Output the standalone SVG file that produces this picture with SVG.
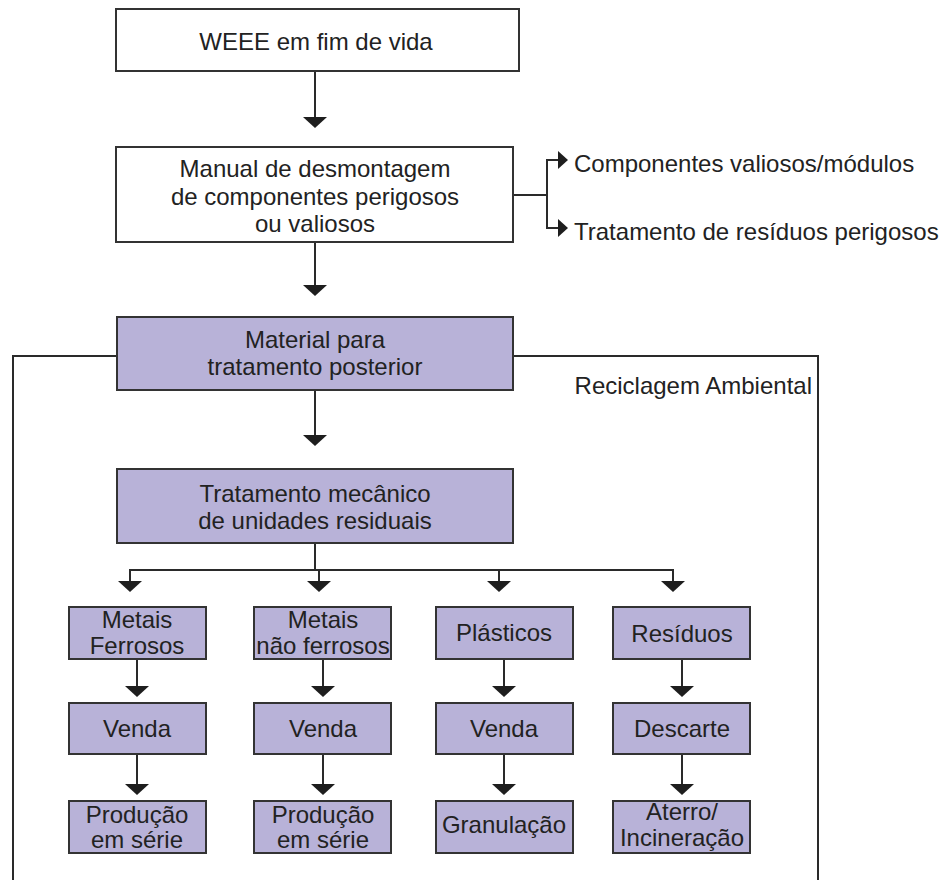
<svg xmlns="http://www.w3.org/2000/svg" width="951" height="880" viewBox="0 0 951 880">
  <style>
    .box { fill: #ffffff; stroke: #333333; stroke-width: 2; }
    .fill { fill: #b8b2d8; stroke: #333333; stroke-width: 2; }
    .line { fill: none; stroke: #2a2a2a; stroke-width: 2; }
    .head { fill: #1e1e1e; }
    text { font-family: "Liberation Sans", Arial, sans-serif; font-size: 24px; fill: #222222; }
    .c { text-anchor: middle; }
  </style>

  <!-- frame around the recycling stage -->
  <g id="frame">
    <polyline class="line" points="117,356 13,356 13,880"/>
    <polyline class="line" points="513,356 818,356 818,880"/>
    <text x="812" y="394" text-anchor="end">Reciclagem Ambiental</text>
  </g>

  <!-- connectors -->
  <g id="connectors">
    <line class="line" x1="315" y1="71" x2="315" y2="118"/>
    <polygon class="head" points="303,117 327,117 315,128"/>

    <line class="line" x1="315" y1="242" x2="315" y2="286"/>
    <polygon class="head" points="303,285 327,285 315,296"/>

    <polyline class="line" points="513,195 547,195"/>
    <polyline class="line" points="559,160 547,160 547,228 559,228"/>
    <polygon class="head" points="558,151 558,169 568,160"/>
    <polygon class="head" points="558,219 558,237 568,228"/>

    <line class="line" x1="315" y1="390" x2="315" y2="436"/>
    <polygon class="head" points="303,435 327,435 315,446"/>

    <polyline class="line" points="315,543 315,570"/>
    <polyline class="line" points="130,582 130,570 673,570 673,582"/>
    <line class="line" x1="319" y1="570" x2="319" y2="582"/>
    <line class="line" x1="499" y1="570" x2="499" y2="582"/>
    <polygon class="head" points="118,581 142,581 130,592"/>
    <polygon class="head" points="307,581 331,581 319,592"/>
    <polygon class="head" points="487,581 511,581 499,592"/>
    <polygon class="head" points="661,581 685,581 673,592"/>

    <line class="line" x1="137" y1="659" x2="137" y2="687"/>
    <line class="line" x1="323" y1="659" x2="323" y2="687"/>
    <line class="line" x1="504" y1="659" x2="504" y2="687"/>
    <line class="line" x1="682" y1="659" x2="682" y2="687"/>
    <polygon class="head" points="125,686 149,686 137,697"/>
    <polygon class="head" points="311,686 335,686 323,697"/>
    <polygon class="head" points="492,686 516,686 504,697"/>
    <polygon class="head" points="670,686 694,686 682,697"/>

    <line class="line" x1="137" y1="754" x2="137" y2="785"/>
    <line class="line" x1="323" y1="754" x2="323" y2="785"/>
    <line class="line" x1="504" y1="754" x2="504" y2="785"/>
    <line class="line" x1="682" y1="754" x2="682" y2="785"/>
    <polygon class="head" points="125,784 149,784 137,795"/>
    <polygon class="head" points="311,784 335,784 323,795"/>
    <polygon class="head" points="492,784 516,784 504,795"/>
    <polygon class="head" points="670,784 694,784 682,795"/>
  </g>

  <g id="weee">
    <rect class="box" x="116" y="9" width="403" height="62"/>
    <text class="c" x="316" y="50">WEEE em fim de vida</text>
  </g>

  <g id="manual">
    <rect class="box" x="116" y="147" width="397" height="95"/>
    <text class="c" x="315" y="177">Manual de desmontagem</text>
    <text class="c" x="315" y="205">de componentes perigosos</text>
    <text class="c" x="315" y="232">ou valiosos</text>
  </g>

  <g id="componentes">
    <text x="574" y="172">Componentes valiosos/módulos</text>
  </g>
  <g id="perigosos">
    <text x="574" y="240">Tratamento de resíduos perigosos</text>
  </g>

  <g id="material">
    <rect class="fill" x="117" y="317" width="396" height="73"/>
    <text class="c" x="315" y="348">Material para</text>
    <text class="c" x="315" y="375">tratamento posterior</text>
  </g>

  <g id="mecanico">
    <rect class="fill" x="117" y="469" width="396" height="74"/>
    <text class="c" x="315" y="502">Tratamento mecânico</text>
    <text class="c" x="315" y="529">de unidades residuais</text>
  </g>

  <!-- column 1 -->
  <g id="ferrosos">
    <rect class="fill" x="69" y="607" width="137" height="52"/>
    <text class="c" x="137" y="628">Metais</text>
    <text class="c" x="137" y="654">Ferrosos</text>
  </g>
  <g id="venda1">
    <rect class="fill" x="69" y="703" width="137" height="51"/>
    <text class="c" x="137" y="737">Venda</text>
  </g>
  <g id="producao1">
    <rect class="fill" x="69" y="801" width="137" height="52"/>
    <text class="c" x="137" y="823">Produção</text>
    <text class="c" x="137" y="848">em série</text>
  </g>

  <!-- column 2 -->
  <g id="naoferrosos">
    <rect class="fill" x="254" y="607" width="137" height="52"/>
    <text class="c" x="323" y="628">Metais</text>
    <text class="c" x="323" y="654">não ferrosos</text>
  </g>
  <g id="venda2">
    <rect class="fill" x="254" y="703" width="137" height="51"/>
    <text class="c" x="323" y="737">Venda</text>
  </g>
  <g id="producao2">
    <rect class="fill" x="254" y="801" width="137" height="52"/>
    <text class="c" x="323" y="823">Produção</text>
    <text class="c" x="323" y="848">em série</text>
  </g>

  <!-- column 3 -->
  <g id="plasticos">
    <rect class="fill" x="436" y="607" width="137" height="52"/>
    <text class="c" x="504" y="641">Plásticos</text>
  </g>
  <g id="venda3">
    <rect class="fill" x="436" y="703" width="137" height="51"/>
    <text class="c" x="504" y="737">Venda</text>
  </g>
  <g id="granulacao">
    <rect class="fill" x="436" y="801" width="137" height="52"/>
    <text class="c" x="504" y="833">Granulação</text>
  </g>

  <!-- column 4 -->
  <g id="residuos">
    <rect class="fill" x="613" y="607" width="137" height="52"/>
    <text class="c" x="682" y="642">Resíduos</text>
  </g>
  <g id="descarte">
    <rect class="fill" x="613" y="703" width="137" height="51"/>
    <text class="c" x="682" y="737">Descarte</text>
  </g>
  <g id="aterro">
    <rect class="fill" x="613" y="801" width="137" height="52"/>
    <text class="c" x="682" y="820">Aterro/</text>
    <text class="c" x="682" y="846">Incineração</text>
  </g>
</svg>
